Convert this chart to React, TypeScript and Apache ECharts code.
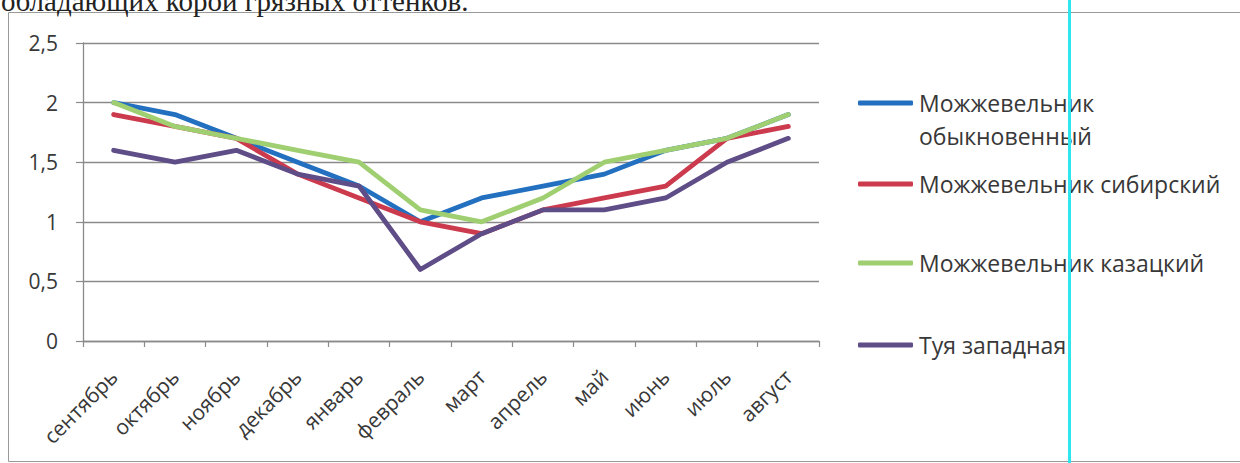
import React, { useEffect, useRef } from "react";
import * as echarts from "echarts";

// Months of the observation season
const months = [
  "сентябрь", "октябрь", "ноябрь", "декабрь", "январь", "февраль",
  "март", "апрель", "май", "июнь", "июль", "август",
];

// Series values per month
const juniperCommon = [2.0, 1.9, 1.7, 1.5, 1.3, 1.0, 1.2, 1.3, 1.4, 1.6, 1.7, 1.9];
const juniperSiberian = [1.9, 1.8, 1.7, 1.4, 1.2, 1.0, 0.9, 1.1, 1.2, 1.3, 1.7, 1.8];
const juniperCossack = [2.0, 1.8, 1.7, 1.6, 1.5, 1.1, 1.0, 1.2, 1.5, 1.6, 1.7, 1.9];
const thujaWestern = [1.6, 1.5, 1.6, 1.4, 1.3, 0.6, 0.9, 1.1, 1.1, 1.2, 1.5, 1.7];

const seriesNames = [
  "Можжевельник обыкновенный",
  "Можжевельник сибирский",
  "Можжевельник казацкий",
  "Туя западная",
];
const seriesColors = ["#2270bf", "#cc3a4d", "#a0cf72", "#5e4d86"];
const seriesData = [juniperCommon, juniperSiberian, juniperCossack, thujaWestern];

const captionText = "обладающих корой грязных оттенков.";

const LABEL_FONT = "'Open Sans', 'Noto Sans', sans-serif";

export default function App() {
  const ref = useRef<HTMLDivElement>(null);

  useEffect(() => {
    if (!ref.current) return;
    const chart = echarts.init(ref.current, null, { renderer: "svg" });

    const legendTops = [103, 184, 263, 345];
    // the first entry wraps: its second word is drawn as a separate line below
    const legendText = (name: string) =>
      name === seriesNames[0] ? "Можжевельник" : name;

    const option: echarts.EChartsOption = {
      animation: false,
      backgroundColor: "#ffffff",
      grid: { left: 83, right: 421, top: 43, bottom: 122, containLabel: false },
      xAxis: {
        type: "category",
        data: months,
        boundaryGap: true,
        axisLine: { lineStyle: { color: "#8a8a8a", width: 1.3 } },
        axisTick: { show: true, length: 6, lineStyle: { color: "#8a8a8a", width: 1.2 } },
        axisLabel: {
          rotate: 45,
          interval: 0,
          margin: 32,
          fontFamily: LABEL_FONT,
          fontSize: 21,
          color: "#383838",
        },
      },
      yAxis: {
        type: "value",
        min: 0,
        max: 2.5,
        interval: 0.5,
        axisLine: { show: true, lineStyle: { color: "#8a8a8a", width: 1.3 } },
        axisTick: { show: true, length: 7, lineStyle: { color: "#8a8a8a", width: 1.2 } },
        splitLine: { lineStyle: { color: "#8a8a8a", width: 1.3 } },
        axisLabel: {
          margin: 25,
          fontFamily: LABEL_FONT,
          fontSize: 21,
          color: "#383838",
          formatter: (v: number) => String(v).replace(".", ","),
        },
      },
      legend: seriesNames.map((name, i) => ({
        data: [name],
        orient: "vertical",
        left: 858,
        top: legendTops[i] - 14,
        padding: 0,
        itemWidth: 55,
        itemHeight: 5,
        itemGap: 0,
        icon: "roundRect",
        selectedMode: false,
        formatter: legendText,
        textStyle: {
          fontFamily: LABEL_FONT,
          fontSize: 23,
          lineHeight: 28,
          color: "#383838",
          padding: [0, 0, 0, 1],
        },
      })),
      series: seriesNames.map((name, i) => ({
        name,
        type: "line",
        data: seriesData[i],
        symbol: "none",
        color: seriesColors[i],
        lineStyle: { width: 4.8, color: seriesColors[i], cap: "round", join: "round" },
        z: 2 + i,
      })),
      graphic: [
        {
          type: "rect",
          shape: { x: 8.5, y: 12.5, width: 1260, height: 449 },
          style: { fill: "none", stroke: "#9a9a9a", lineWidth: 1 },
          z: 0,
          silent: true,
        },
        {
          type: "text",
          x: 1,
          y: 15,
          style: {
            text: captionText,
            fontFamily: "'Liberation Serif', 'DejaVu Serif', serif",
            fontSize: 29,
            fill: "#222222",
            verticalAlign: "bottom",
          } as any,
          z: 10,
        },
        {
          type: "text",
          x: 919,
          y: 136,
          style: {
            text: "обыкновенный",
            fontFamily: LABEL_FONT,
            fontSize: 23,
            fill: "#383838",
            verticalAlign: "middle",
          } as any,
          z: 10,
        },
        {
          type: "rect",
          shape: { x: 1068, y: 0, width: 3, height: 463 },
          style: { fill: "#2ee6ee" },
          z: 100,
          silent: true,
        },
      ],
    };

    chart.setOption(option);
    return () => chart.dispose();
  }, []);

  return (
    <div
      ref={ref}
      style={{ position: "absolute", left: 0, top: 0, width: 1240, height: 463 }}
    />
  );
}
